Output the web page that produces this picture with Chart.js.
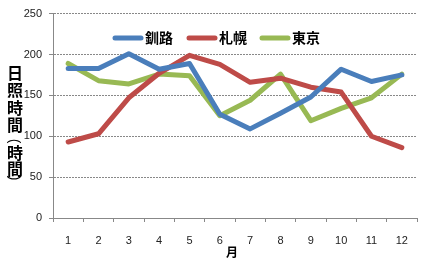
<!DOCTYPE html>
<html><head><meta charset="utf-8">
<script src="https://cdn.jsdelivr.net/npm/chart.js@4"></script>
<style>html,body{margin:0;padding:0;background:#fff}#wrap{width:424px;height:267px}</style>
</head><body><div id="wrap"><canvas id="c" width="424" height="267"></canvas></div>
<script>
const months = ['1','2','3','4','5','6','7','8','9','10','11','12'];
const kushiro = [183,183,201,182,189,127,109,128,148,182,167,175];
const sapporo = [93,103,147,177,199,188,166,171,160,154,100,86];
const tokyo = [189,168,164,176,174,125,144,176,119,134,147,176];
const seriesNames = ['釧路','札幌','東京'];
const yTicks = [0,50,100,150,200,250];
const yTitleChars = ['日','照','時','間','（','時','間','）'];
const xTitle = '月';

const colors = ['#4a7ebb','#be4b48','#98b954'];

const yTitlePlugin = {
  id:'yTitle',
  afterDraw(chart){
    const ctx = chart.ctx;
    ctx.save();
    ctx.fillStyle = '#000';
    ctx.textAlign = 'center';
    ctx.textBaseline = 'middle';
    const ys = [73,90,108,125,141,153,169,178];
    yTitleChars.forEach((ch,i)=>{
      if (ch==='（' || ch==='）'){
        ctx.save();
        ctx.font = '14px "Liberation Sans"';
        ctx.translate(14, ys[i]);
        ctx.rotate(Math.PI/2);
        ctx.fillText(ch==='（'?'(':')',0,0);
        ctx.restore();
      } else {
        ctx.font = 'bold 16px "Noto Sans CJK JP"';
        ctx.fillText(ch,15,ys[i]);
      }
    });
    ctx.font = 'bold 12px "Noto Sans CJK JP"';
    ctx.fillText(xTitle,232,252);
    ctx.restore();
  }
};
const legendPlugin = {
  id:'inLegend',
  afterDatasetsDraw(chart){
    const ctx = chart.ctx;
    ctx.save();
    ctx.font = 'bold 14px "Noto Sans CJK JP"';
    ctx.textBaseline = 'middle';
    const starts = [113,187,260];
    const y = 38;
    chart.data.datasets.forEach((ds,i)=>{
      const x = starts[i];
      ctx.strokeStyle = ds.borderColor;
      ctx.lineWidth = 5;
      ctx.lineCap = 'round';
      ctx.beginPath(); ctx.moveTo(x+2,y); ctx.lineTo(x+28,y); ctx.stroke();
      ctx.fillStyle = '#000';
      ctx.fillText(ds.label, x+32, y);
    });
    ctx.restore();
  }
};

new Chart(document.getElementById('c'),{
  type:'line',
  data:{labels:months,datasets:[
    {label:seriesNames[0],data:kushiro,borderColor:colors[0]},
    {label:seriesNames[1],data:sapporo,borderColor:colors[1]},
    {label:seriesNames[2],data:tokyo,borderColor:colors[2]}
  ].map(d=>Object.assign(d,{borderWidth:5,pointRadius:0,tension:0,fill:false,borderCapStyle:'round',borderJoinStyle:'round'}))},
  options:{
    responsive:false,animation:false,
    layout:{padding:{left:0,right:7,top:12,bottom:0}},
    plugins:{legend:{display:false},tooltip:{enabled:false}},
    scales:{
      x:{
        offset:true,
        grid:{offset:true,drawOnChartArea:false,drawTicks:true,tickLength:4,color:'#888'},
        border:{color:'#888',width:1},
        ticks:{color:'#222',font:{family:'Liberation Sans',size:11},padding:12,maxRotation:0},
        afterFit(s){s.height=49;}
      },
      y:{
        min:0,max:250,
        afterBuildTicks(s){s.ticks=yTicks.map(v=>({value:v}));},
        grid:{color:'#888',tickLength:4},
        border:{color:'#888',width:1,dash:[2,1]},
        ticks:{color:'#222',font:{family:'Liberation Sans',size:11},padding:7},
        afterFit(s){s.width=53;}
      }
    }
  },
  plugins:[yTitlePlugin,legendPlugin]
});
</script></body></html>
